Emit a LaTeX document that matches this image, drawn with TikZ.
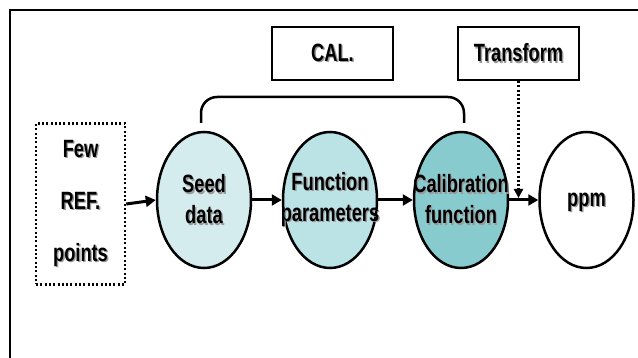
\documentclass[tikz,border=0pt]{standalone}
\usepackage{fontspec}
\newfontfamily\lbl{Liberation Sans Bold}[FakeStretch=0.73]
\usetikzlibrary{arrows.meta,calc,shapes.geometric}
\definecolor{shadowgray}{HTML}{9A9A9A}
\definecolor{seedfill}{HTML}{D5ECEE}
\definecolor{funcfill}{HTML}{BBE2E5}
\definecolor{calfill}{HTML}{88CBCF}
% bold narrow label with a soft grey drop shadow
\newcommand\shd[1]{\leavevmode\rlap{\hspace{1.4pt}\raisebox{-1.4pt}{\textcolor{shadowgray}{#1}}}#1}
\tikzset{
  stage/.style={ellipse, draw=black, line width=2.5pt, minimum width=94pt,
    minimum height=136pt, inner sep=0pt},
  stagetext/.style={align=center, inner sep=0pt,
    font=\lbl\fontsize{25}{31}\selectfont},
  tagbox/.style={rectangle, draw=black, line width=2pt, minimum width=121pt,
    minimum height=53pt, inner sep=0pt, font=\lbl\fontsize{25}{28}\selectfont},
  refbox/.style={rectangle, draw=black, line width=2.5pt,
    dash pattern=on 2pt off 2.3pt, minimum width=89pt, minimum height=161pt,
    inner sep=0pt, align=center, font=\lbl\fontsize{25}{52}\selectfont},
  flow/.style={line width=3pt, -{Triangle[length=10pt,width=11pt]}},
  hint/.style={line width=2.5pt, dash pattern=on 2pt off 2.3pt,
    -{Triangle[length=9pt,width=9pt]}},
}
\begin{document}
\begin{tikzpicture}[x=1pt,y=-1pt]
\useasboundingbox (0,0) rectangle (638,358);
\fill[white] (0,0) rectangle (638,358);
% outer frame (continues past the right and bottom edges)
\draw[line width=2.5pt] (10,358) -- (10,10) -- (638,10);

\node[tagbox] (cal) at (332.5,53.5) {\shd{CAL.}};
\node[tagbox] (transform) at (518.5,53.5) {\shd{Transform}};

\node[refbox] (ref) at (80.5,204) {\shd{Few}\\\shd{REF.}\\\shd{points}};

% stages: fixed ellipses, labels laid over them (labels may overflow)
\node[stage, fill=seedfill] (seed) at (204,200) {};
\node[stage, fill=funcfill] (func) at (330,200) {};
\node[stage, fill=calfill] (calfn) at (461,200) {};
\node[stage, fill=white] (ppm) at (586.5,200) {};
\node[stagetext] (seedtxt) at (seed) {\shd{Seed}\\\shd{data}};
\node[stagetext] (functxt) at (func) {\shd{Function}\\\shd{parameters}};
\node[stagetext] (calfntxt) at (calfn) {\shd{Calibration}\\\shd{function}};
\node[stagetext] (ppmtxt) at ([yshift=-3pt]ppm.center) {\shd{ppm}};

\draw[flow] (ref.east) -- (seed.west);
\draw[flow] (seed.east) -- (func.west);
\draw[flow] (func.east) -- (calfn.west);
\draw[flow] (calfn.east) -- (ppm.west);

% bracket grouping the calibration stages
\coordinate (bl) at (201,123);
\coordinate (br) at (464,123);
\draw[line width=2.5pt, rounded corners=16pt] (bl) -- (201,97) -- (464,97) -- (br);

% transform feeds into the output arrow
\coordinate (join) at (transform.south |- calfn.east);
\draw[hint] (transform.south) -- ([yshift=2pt]join);
\end{tikzpicture}
\end{document}
